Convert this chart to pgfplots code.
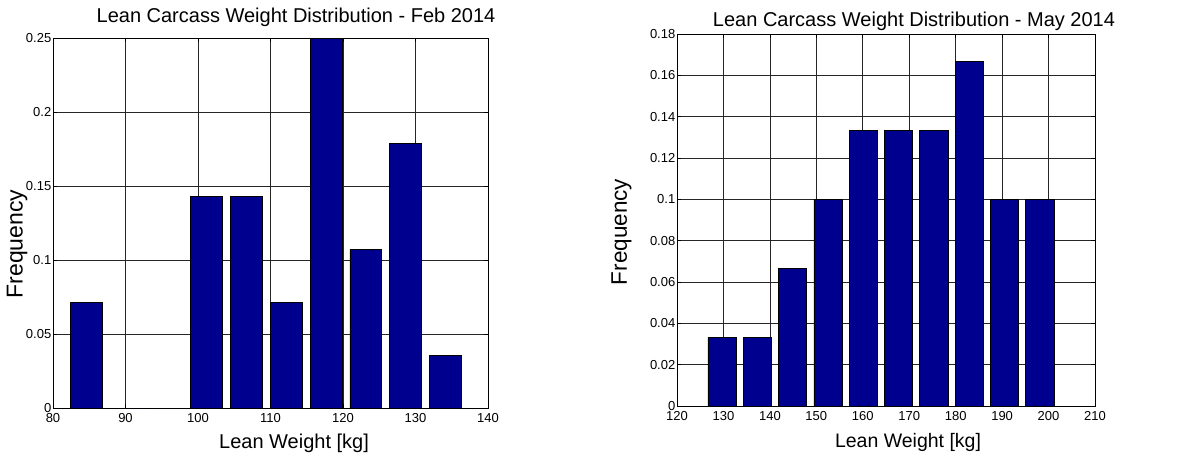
\documentclass[border=0pt]{standalone}
\usepackage{fontspec}
\setmainfont{Liberation Sans}
\usepackage{pgfplots}
\pgfplotsset{compat=1.18}
\definecolor{barnavy}{rgb}{0,0,0.5625}

\pgfplotsset{
  histstyle/.style={
    scale only axis,
    ybar,
    ymin=0,
    grid=major,
    major grid style={black!85, line width=0.65pt},
    axis line style={black, line width=0.9pt},
    tick style={black, line width=0.6pt},
    tick align=inside,
    major tick length=4pt,
    ticklabel style={font=\fontsize{13}{15}\selectfont},
    /pgf/number format/assume math mode=true,
    yticklabel style={/pgf/number format/fixed, /pgf/number format/precision=2,
      inner sep=1pt, xshift=-0.5pt},
    xticklabel style={/pgf/number format/fixed, inner sep=1pt, yshift=-4pt},
  },
  histbars/.style={fill=barnavy, draw=black, line width=0.6pt},
}

\begin{document}
\begin{tikzpicture}
\useasboundingbox (0,0) rectangle (1182pt,459pt);

% February 2014
\begin{axis}[histstyle,
  at={(53pt,51pt)}, anchor=south west,
  width=435pt, height=370pt,
  xmin=80, xmax=140, ymax=0.25,
  xtick={80,90,...,140},
  ytick={0,0.05,0.1,0.15,0.2,0.25},
  bar width=4.4,
]
\addplot[histbars] coordinates {
  (84.65,0.0714) (90.15,0) (95.65,0) (101.15,0.1429) (106.65,0.1429)
  (112.15,0.0714) (117.65,0.25) (123.15,0.1071) (128.65,0.1786) (134.15,0.0357)
};
\end{axis}

% May 2014
\begin{axis}[histstyle,
  at={(677pt,53pt)}, anchor=south west,
  width=418pt, height=372pt,
  xmin=120, xmax=210, ymax=0.18,
  xtick={120,130,...,210},
  ytick={0,0.02,0.04,0.06,0.08,0.1,0.12,0.14,0.16,0.18},
  bar width=6.08,
]
\addplot[histbars] coordinates {
  (129.7,0.0333) (137.3,0.0333) (144.9,0.0667) (152.5,0.1) (160.1,0.1333)
  (167.7,0.1333) (175.3,0.1333) (182.9,0.1667) (190.5,0.1) (198.1,0.1)
};
\end{axis}

% titles and axis labels
\node[anchor=base, font=\fontsize{20}{22}\selectfont] at (296pt,436pt)
  {Lean Carcass Weight Distribution - Feb 2014};
\node[anchor=base, font=\fontsize{20}{22}\selectfont] at (914pt,432pt)
  {Lean Carcass Weight Distribution - May 2014};
\node[anchor=base, font=\fontsize{20}{24}\selectfont] at (294pt,11pt)
  {Lean Weight [kg]};
\node[anchor=base, font=\fontsize{19.5}{24}\selectfont] at (908pt,12pt)
  {Lean Weight [kg]};
\node[rotate=90, anchor=center, font=\fontsize{23}{26}\selectfont] at (17pt,215pt)
  {Frequency};
\node[rotate=90, anchor=center, font=\fontsize{22.5}{26}\selectfont] at (621.5pt,227pt)
  {Frequency};
\end{tikzpicture}
\end{document}
